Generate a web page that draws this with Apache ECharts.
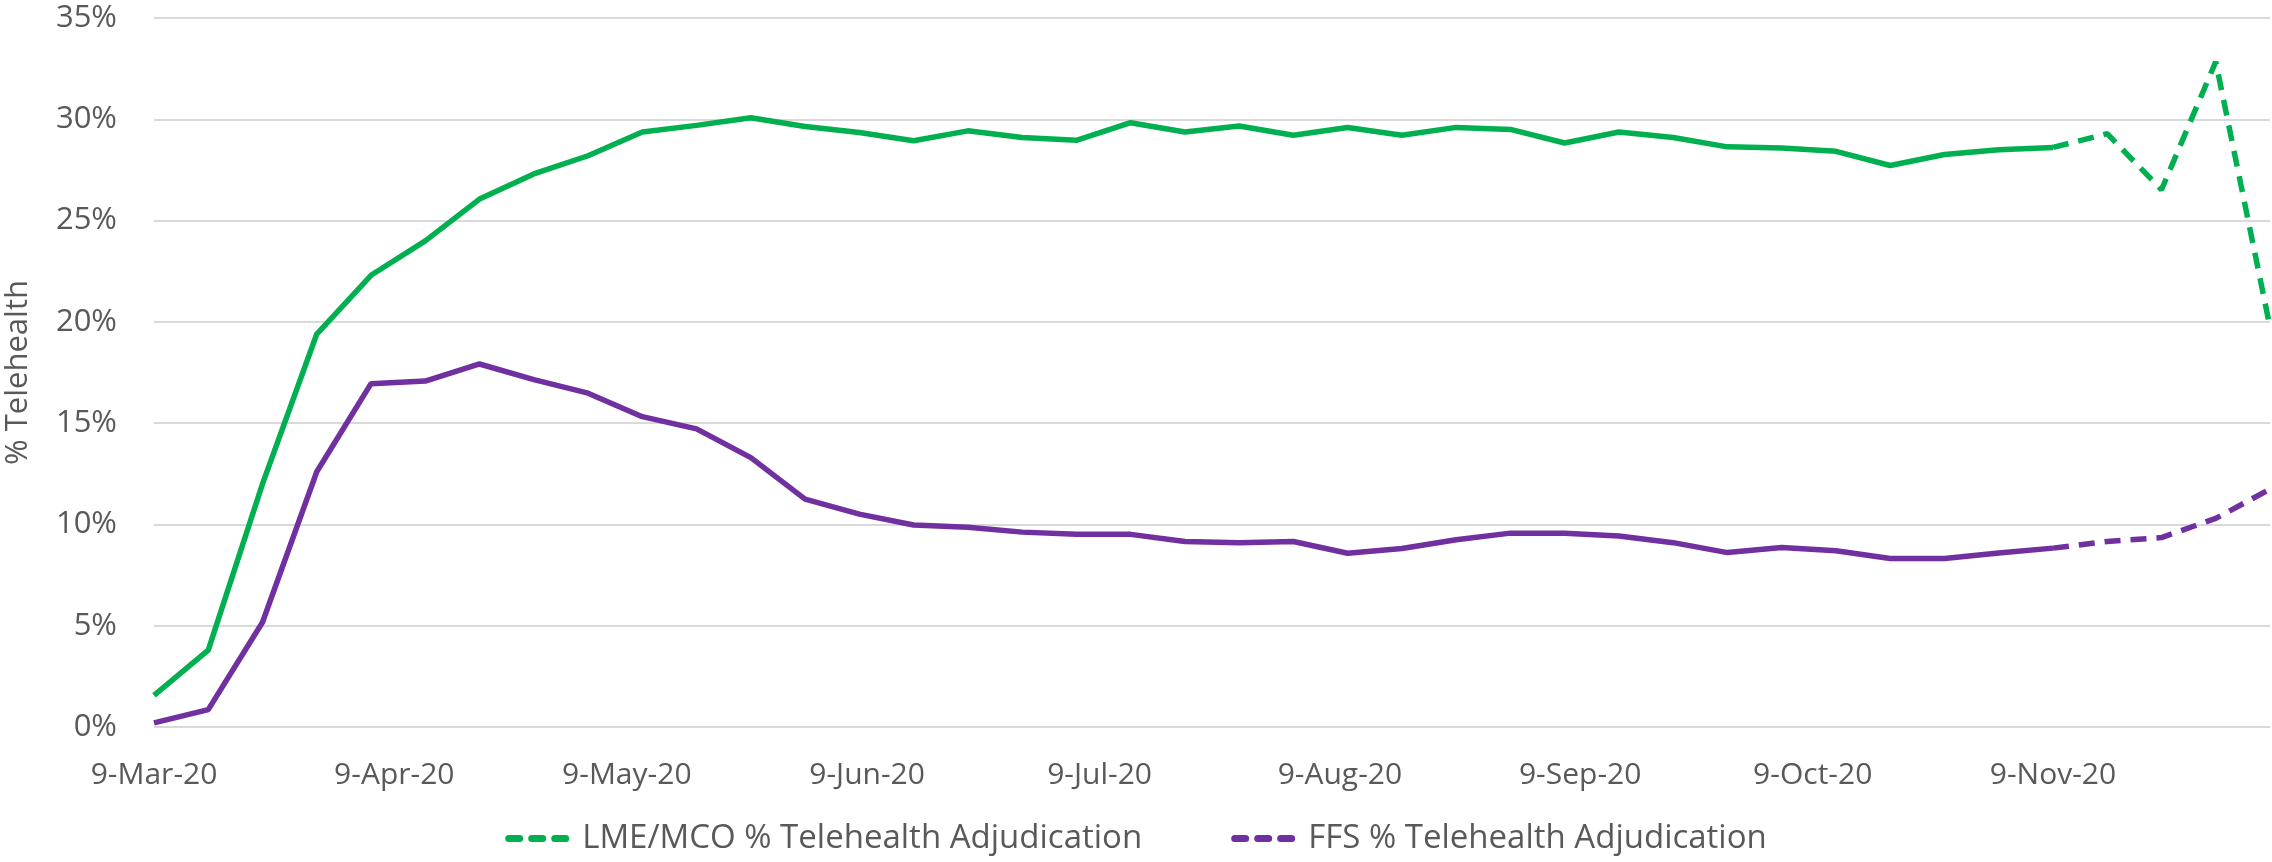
<!DOCTYPE html>
<html>
<head>
<meta charset="utf-8">
<script src="https://cdn.jsdelivr.net/npm/echarts@6/dist/echarts.min.js"></script>
<style>
    html, body { margin: 0; padding: 0; background: #fff; }
    #chart { width: 2272px; height: 862px; }
</style>
</head>
<body>
<div id="chart"></div>
<script>
// weekly dates (Mondays)
var weeks = [
    "2020-03-09", "2020-03-16", "2020-03-23", "2020-03-30",
    "2020-04-06", "2020-04-13", "2020-04-20", "2020-04-27",
    "2020-05-04", "2020-05-11", "2020-05-18", "2020-05-25",
    "2020-06-01", "2020-06-08", "2020-06-15", "2020-06-22", "2020-06-29",
    "2020-07-06", "2020-07-13", "2020-07-20", "2020-07-27",
    "2020-08-03", "2020-08-10", "2020-08-17", "2020-08-24", "2020-08-31",
    "2020-09-07", "2020-09-14", "2020-09-21", "2020-09-28",
    "2020-10-05", "2020-10-12", "2020-10-19", "2020-10-26",
    "2020-11-02", "2020-11-09", "2020-11-16", "2020-11-23", "2020-11-30",
    "2020-12-07"
];
// % telehealth
var lmeMco = [1.56, 3.79, 12.0, 19.4, 22.3, 24.0, 26.06, 27.3, 28.2, 29.37,
    29.7, 30.08, 29.64, 29.35, 28.94, 29.43, 29.1, 28.96, 29.83, 29.37,
    29.67, 29.21, 29.59, 29.21, 29.6, 29.5, 28.83, 29.37, 29.1, 28.64,
    28.58, 28.42, 27.72, 28.26, 28.5, 28.61, 29.29, 26.52, 32.84, 19.74];
var ffs = [0.2, 0.86, 5.17, 12.6, 16.95, 17.08, 17.92, 17.15, 16.48, 15.32,
    14.72, 13.3, 11.25, 10.51, 9.97, 9.86, 9.62, 9.51, 9.51, 9.16,
    9.1, 9.16, 8.58, 8.81, 9.24, 9.57, 9.57, 9.43, 9.1, 8.61,
    8.86, 8.7, 8.32, 8.32, 8.59, 8.83, 9.16, 9.35, 10.3, 11.74];
// from this week on the lines are dashed
var dashFrom = 35;
// x labels on the 9th of each month
var labelDates = ["2020-03-09", "2020-04-09", "2020-05-09", "2020-06-09", "2020-07-09",
    "2020-08-09", "2020-09-09", "2020-10-09", "2020-11-09"];
var yTicks = [0, 5, 10, 15, 20, 25, 30, 35];

var names = ["LME/MCO % Telehealth Adjudication", "FFS % Telehealth Adjudication"];
var months = ["Jan", "Feb", "Mar", "Apr", "May", "Jun", "Jul", "Aug", "Sep", "Oct", "Nov", "Dec"];

function toTime(s) {
    var p = s.split("-");
    return new Date(+p[0], +p[1] - 1, +p[2]).getTime();
}

function pairs(vals, from, to) {
    var out = [];
    for (var i = from; i <= to; i++) out.push([toTime(weeks[i]), vals[i]]);
    return out;
}

var textColor = "#595959";
var font = "Open Sans";
var green = "#00B050";
var purple = "#7030A0";

// three rounded dashes, like the excel legend key
var dashIcon = "path://M3.5,0h11a3.5,3.5 0 0 1 0,7h-11a3.5,3.5 0 0 1 0,-7z" +
    "M26.5,0h11a3.5,3.5 0 0 1 0,7h-11a3.5,3.5 0 0 1 0,-7z" +
    "M49.5,0h11a3.5,3.5 0 0 1 0,7h-11a3.5,3.5 0 0 1 0,-7z";

function lineSeries(name, color, data, dashed) {
    return {
        name: name,
        type: "line",
        data: data,
        symbol: "none",
        smooth: false,
        lineStyle: {color: color, width: 5.5, type: dashed ? [16, 10] : "solid", cap: "butt"},
        itemStyle: {color: color},
        emphasis: {disabled: true},
        z: dashed ? 3 : 2
    };
}

var chart = echarts.init(document.getElementById("chart"));
var last = weeks.length - 1;

chart.setOption({
    animation: false,
    textStyle: {fontFamily: font},
    grid: {left: 154, right: 2, top: 18, bottom: 135, containLabel: false, outerBoundsMode: "none"},
    legend: {
        data: names,
        bottom: 2,
        left: "center",
        icon: dashIcon,
        itemWidth: 64,
        itemHeight: 7,
        itemGap: 89,
        textStyle: {color: textColor, fontSize: 33, fontFamily: font, padding: [0, 0, 0, 8]}
    },
    xAxis: {
        // timestamps on a plain value axis so the labels can sit on the 9th
        type: "value",
        min: toTime(weeks[0]),
        max: toTime(weeks[last]),
        axisLine: {show: false},
        axisTick: {show: false},
        splitLine: {show: false},
        axisLabel: {
            customValues: labelDates.map(toTime),
            color: textColor,
            fontSize: 30,
            fontFamily: font,
            margin: 33,
            hideOverlap: false,
            formatter: function (v) {
                var d = new Date(v);
                return d.getDate() + "-" + months[d.getMonth()] + "-" + String(d.getFullYear()).slice(2);
            }
        }
    },
    yAxis: {
        type: "value",
        min: yTicks[0],
        max: yTicks[yTicks.length - 1],
        interval: 5,
        name: "% Telehealth",
        nameLocation: "middle",
        nameGap: 120,
        nameTextStyle: {color: textColor, fontSize: 31, fontFamily: font},
        axisLine: {show: false},
        axisTick: {show: false},
        splitLine: {lineStyle: {color: "#D9D9D9", width: 2}},
        axisLabel: {
            color: textColor,
            fontSize: 31,
            fontFamily: font,
            margin: 37,
            formatter: "{value}%"
        }
    },
    series: [
        lineSeries("LME/MCO actual", green, pairs(lmeMco, 0, dashFrom), false),
        lineSeries(names[0], green, pairs(lmeMco, dashFrom, last), true),
        lineSeries("FFS actual", purple, pairs(ffs, 0, dashFrom), false),
        lineSeries(names[1], purple, pairs(ffs, dashFrom, last), true)
    ]
});
</script>
</body>
</html>
